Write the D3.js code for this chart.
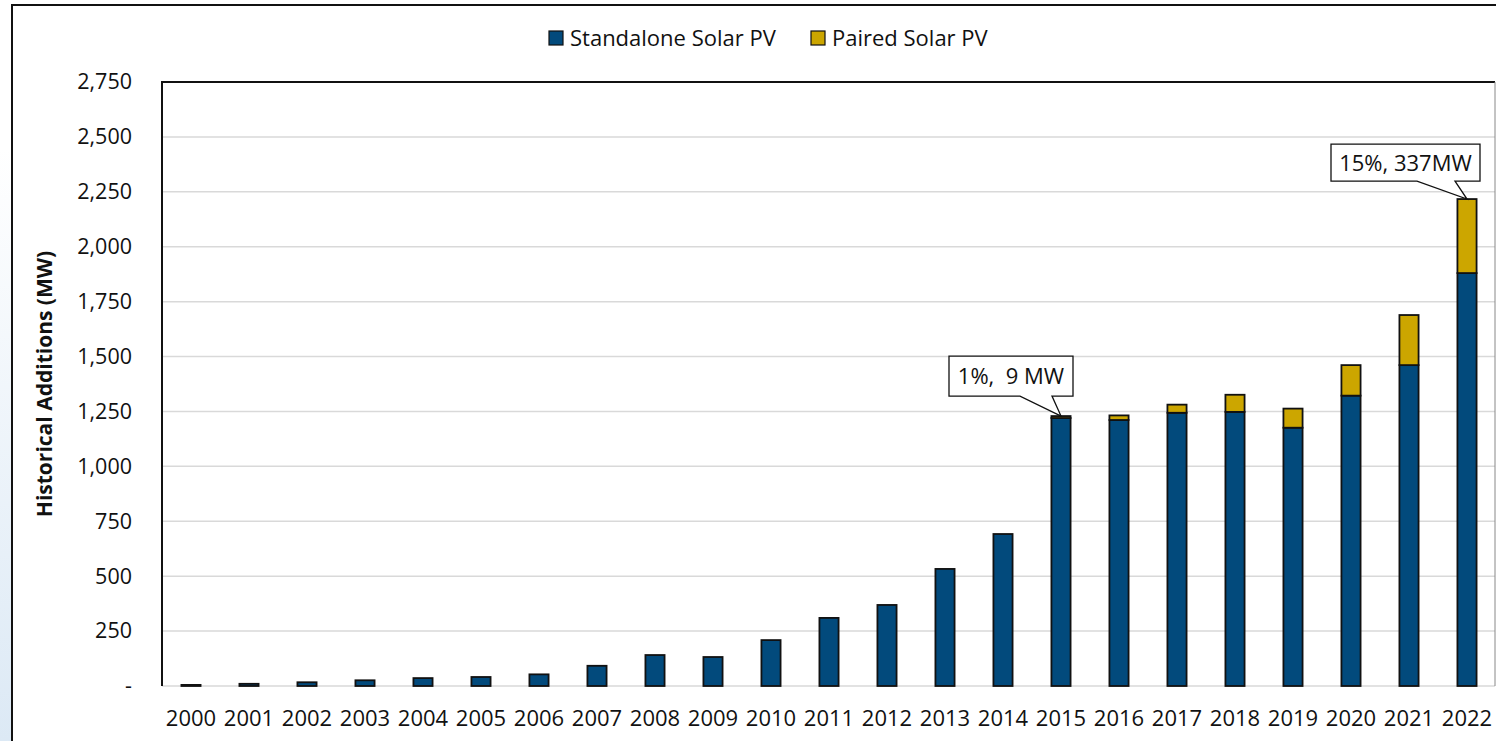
<!DOCTYPE html>
<html>
<head>
<meta charset="utf-8">
<script src="https://cdn.jsdelivr.net/npm/d3@7"></script>
<style>
  body { margin: 0; background: #fff; }
  text { font-family: "Open Sans", sans-serif; fill: #111; }
</style>
</head>
<body>
<script>
// chart values
var years = ['2000','2001','2002','2003','2004','2005','2006','2007','2008','2009','2010','2011',
  '2012','2013','2014','2015','2016','2017','2018','2019','2020','2021','2022'];
var standalone = [5, 10, 17, 26, 36, 41, 53, 92, 141, 132, 209, 310, 369, 533, 692,
  1220, 1211, 1244, 1248, 1176, 1322, 1461, 1880];
var paired = [0, 0, 0, 0, 0, 0, 0, 0, 0, 0, 0, 0, 0, 0, 0,
  9, 21, 37, 78, 87, 139, 228, 337];
var yTicks = [0, 250, 500, 750, 1000, 1250, 1500, 1750, 2000, 2250, 2500, 2750];
var seriesNames = ['Standalone Solar PV', 'Paired Solar PV'];
var seriesKeys = ['standalone', 'paired'];
var callouts = [
  { year: '2015', label: '1%,  9 MW' },
  { year: '2022', label: '15%, 337MW' }
];

var width = 1496;
var height = 741;
var colors = ['#024a7c', '#cca600'];

var rows = years.map(function(y, i) {
  return { year: y, standalone: standalone[i], paired: paired[i] };
});

var svg = d3.select('body')
  .append('svg')
  .attr('width', width)
  .attr('height', height);

// light blue slide background peeking in on the left
var grad = svg.append('defs').append('linearGradient')
  .attr('id', 'bg')
  .attr('x1', 0).attr('y1', 0).attr('x2', 0).attr('y2', 1);
grad.append('stop').attr('offset', '0.2').attr('stop-color', '#ffffff');
grad.append('stop').attr('offset', '1').attr('stop-color', '#dce9f5');
svg.append('rect')
  .attr('x', 0).attr('y', 0)
  .attr('width', 12).attr('height', height)
  .attr('fill', 'url(#bg)');

// outer chart frame
svg.append('path')
  .attr('d', 'M12,' + height + 'V5H' + width)
  .attr('fill', 'none')
  .attr('stroke', '#111')
  .attr('stroke-width', 2);

var margin = { left: 162, top: 82, right: 0, bottom: 55 };

var x = d3.scaleBand()
  .domain(years)
  .range([margin.left, width - margin.right])
  .paddingInner(0.67)
  .paddingOuter(0.335);

var y = d3.scaleLinear()
  .domain([0, 2750])
  .range([height - margin.bottom, margin.top]);

// gridlines
svg.append('g')
  .selectAll('line')
  .data(yTicks)
  .enter()
  .append('line')
  .attr('x1', margin.left)
  .attr('x2', width - 1)
  .attr('y1', function(d) { return y(d); })
  .attr('y2', function(d) { return y(d); })
  .attr('stroke', '#d9d9d9')
  .attr('stroke-width', 1.5);

// plot border: black left/top, grey right
svg.append('path')
  .attr('d', 'M' + margin.left + ',' + y(0) + 'V' + y(2750) + 'H' + (width - 1))
  .attr('fill', 'none')
  .attr('stroke', '#111')
  .attr('stroke-width', 2);
svg.append('line')
  .attr('x1', width - 1).attr('x2', width - 1)
  .attr('y1', y(2750)).attr('y2', y(0))
  .attr('stroke', '#888')
  .attr('stroke-width', 1);

// y axis labels
var yAxis = d3.axisLeft(y)
  .tickValues(yTicks)
  .tickSize(0)
  .tickPadding(30)
  .tickFormat(function(d) { return d === 0 ? '-' : d3.format(',')(d); });
var ya = svg.append('g')
  .attr('transform', 'translate(' + margin.left + ',0)')
  .call(yAxis);
ya.select('.domain').remove();
ya.selectAll('text')
  .style('font-family', '"Open Sans", sans-serif')
  .style('font-size', '21.5px')
  .attr('fill', '#111');

// x axis labels
var xAxis = d3.axisBottom(x).tickSize(0).tickPadding(24);
var xa = svg.append('g')
  .attr('transform', 'translate(0,' + y(0) + ')')
  .call(xAxis);
xa.select('.domain').remove();
xa.selectAll('text')
  .style('font-family', '"Open Sans", sans-serif')
  .style('font-size', '22px')
  .attr('fill', '#111');

// y axis title
svg.append('text')
  .attr('transform', 'translate(52,' + y(1375) + ') rotate(-90)')
  .attr('text-anchor', 'middle')
  .style('font-size', '21px')
  .style('font-weight', 'bold')
  .text('Historical Additions (MW)');

// stacked bars
var stack = d3.stack().keys(seriesKeys);
var layers = stack(rows);

svg.selectAll('.layer')
  .data(layers)
  .enter()
  .append('g')
  .attr('class', 'layer')
  .attr('fill', function(d, i) { return colors[i]; })
  .selectAll('rect')
  .data(function(d) { return d.filter(function(s) { return s[1] > s[0]; }); })
  .enter()
  .append('rect')
  .attr('x', function(d) { return x(d.data.year); })
  .attr('width', x.bandwidth())
  .attr('y', function(d) { return y(d[1]); })
  .attr('height', function(d) { return y(d[0]) - y(d[1]); })
  .attr('stroke', '#111')
  .attr('stroke-width', 1.8);

// legend
var legend = svg.append('g');
var legendX = [549, 811];
seriesNames.forEach(function(name, i) {
  legend.append('rect')
    .attr('x', legendX[i])
    .attr('y', 31)
    .attr('width', 14)
    .attr('height', 14)
    .attr('fill', colors[i])
    .attr('stroke', '#111')
    .attr('stroke-width', 1.2);
  legend.append('text')
    .attr('x', legendX[i] + 21)
    .attr('y', 46)
    .style('font-size', '22px')
    .text(name);
});

// callouts pointing at bar tops
var totals = {};
rows.forEach(function(r) { totals[r.year] = r.standalone + r.paired; });
var calloutShape = [
  { left: -112, right: 12, top: -60, bottom: -20, w1: -41, w2: -9 },
  { left: -136, right: 13, top: -55, bottom: -18, w1: -50, w2: -12 }
];
callouts.forEach(function(c, i) {
  var s = calloutShape[i];
  var cx = x(c.year) + x.bandwidth() / 2;
  var cy = y(totals[c.year]);
  var p = d3.path();
  p.moveTo(cx + s.left, cy + s.top);
  p.lineTo(cx + s.right, cy + s.top);
  p.lineTo(cx + s.right, cy + s.bottom);
  p.lineTo(cx + s.w2, cy + s.bottom);
  p.lineTo(cx, cy);
  p.lineTo(cx + s.w1, cy + s.bottom);
  p.lineTo(cx + s.left, cy + s.bottom);
  p.closePath();
  svg.append('path')
    .attr('d', p.toString())
    .attr('fill', '#fff')
    .attr('stroke', '#111')
    .attr('stroke-width', 1.3);
  svg.append('text')
    .attr('x', cx + (s.left + s.right) / 2)
    .attr('y', cy + (s.top + s.bottom) / 2 + 8)
    .attr('text-anchor', 'middle')
    .style('font-size', '22px')
    .style('white-space', 'pre')
    .text(c.label);
});
</script>
</body>
</html>
